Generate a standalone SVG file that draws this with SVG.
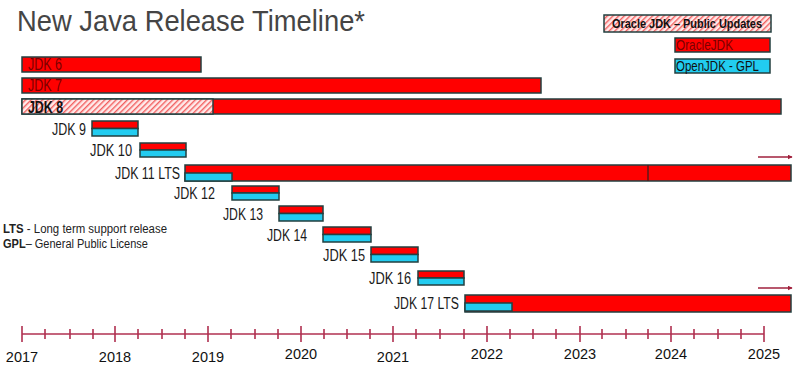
<svg xmlns="http://www.w3.org/2000/svg" width="800" height="368" viewBox="0 0 800 368">
<defs>
<pattern id="hatch" width="4" height="4" patternUnits="userSpaceOnUse" patternTransform="rotate(45)">
<rect width="4" height="4" fill="#ffeaea"/>
<rect x="0" y="0" width="1.4" height="4" fill="#f26060"/>
</pattern>
<marker id="arr" viewBox="0 0 8 8" refX="7" refY="4" markerWidth="5" markerHeight="5" orient="auto" markerUnits="userSpaceOnUse">
<path d="M0,0 L8,4 L0,8 z" fill="#a0203c"/>
</marker>
</defs>
<style>
.bar{stroke:#233f3f;stroke-width:1.5}
.red{fill:#ff0000}
.cyan{fill:#22ccf0}
.hat{fill:url(#hatch)}
.lbl{font-family:"Liberation Sans",Arial,sans-serif;font-size:16px;fill:#1a1a1a}
.inl{font-family:"Liberation Sans",Arial,sans-serif;font-size:16px;fill:#7a0000}
.yr{font-family:"Liberation Sans",Arial,sans-serif;font-size:14.5px;fill:#111;text-anchor:middle}
.ax{stroke:#b03050;stroke-width:1.6;fill:none}
.small{font-family:"Liberation Sans",Arial,sans-serif;font-size:12px;fill:#222}
.arrow{stroke:#a0203c;stroke-width:1.5;fill:none}
</style>
<rect width="800" height="368" fill="#ffffff"/>
<text x="17" y="31" font-family="'Liberation Sans',Arial,sans-serif" font-size="29" fill="#454545" textLength="348" lengthAdjust="spacingAndGlyphs">New Java Release Timeline*</text>

<g id="legend">
<rect class="bar hat" x="604" y="15" width="167" height="17"/>
<text x="612" y="28" font-family="'Liberation Sans',Arial,sans-serif" font-size="13" font-weight="bold" fill="#111" textLength="150" lengthAdjust="spacingAndGlyphs">Oracle JDK – Public Updates</text>
<rect class="bar red" x="675" y="38" width="95" height="14"/>
<text x="676" y="50" font-family="'Liberation Sans',Arial,sans-serif" font-size="14.5" fill="#7a0000" textLength="57" lengthAdjust="spacingAndGlyphs">OracleJDK</text>
<rect class="bar cyan" x="675" y="59" width="95" height="14"/>
<text x="676" y="71" font-family="'Liberation Sans',Arial,sans-serif" font-size="14.5" fill="#111" textLength="83" lengthAdjust="spacingAndGlyphs">OpenJDK - GPL</text>
</g>

<g id="notes">
<text class="small" x="3" y="232.5" textLength="164" lengthAdjust="spacingAndGlyphs"><tspan font-weight="bold">LTS</tspan> - Long term support release</text>
<text class="small" x="3" y="247.5" textLength="145" lengthAdjust="spacingAndGlyphs"><tspan font-weight="bold">GPL</tspan>– General Public License</text>
</g>

<g id="jdk6">
<rect class="bar red" x="22" y="57" width="179" height="15"/>
<text class="inl" x="28" y="70" textLength="34" lengthAdjust="spacingAndGlyphs">JDK 6</text>
</g>
<g id="jdk7">
<rect class="bar red" x="22" y="78" width="519" height="15"/>
<text class="inl" x="28" y="91" textLength="34" lengthAdjust="spacingAndGlyphs">JDK 7</text>
</g>
<g id="jdk8">
<rect class="bar red" x="22" y="99" width="759" height="15"/>
<rect class="bar hat" x="22" y="99" width="191" height="15"/>
<text x="28" y="112.5" font-family="'Liberation Sans',Arial,sans-serif" font-size="16" font-weight="bold" fill="#111" textLength="35" lengthAdjust="spacingAndGlyphs">JDK 8</text>
</g>
<g id="jdk9">
<rect class="bar red" x="92" y="121" width="46" height="7.5"/>
<rect class="bar cyan" x="92" y="128.5" width="46" height="7.5"/>
<text class="lbl" x="86" y="134.5" text-anchor="end" textLength="34" lengthAdjust="spacingAndGlyphs">JDK 9</text>
</g>
<g id="jdk10">
<rect class="bar red" x="140" y="143" width="46" height="7"/>
<rect class="bar cyan" x="140" y="150" width="46" height="7"/>
<text class="lbl" x="132" y="155.5" text-anchor="end" textLength="42" lengthAdjust="spacingAndGlyphs">JDK 10</text>
</g>
<g id="jdk11">
<rect class="bar red" x="185" y="165" width="606" height="16"/>
<rect class="bar cyan" x="185" y="173" width="47" height="8"/>
<line x1="648" y1="165" x2="648" y2="181" stroke="#5a1a1a" stroke-width="1.5"/>
<text class="lbl" x="180" y="178.5" text-anchor="end" textLength="65" lengthAdjust="spacingAndGlyphs">JDK 11 LTS</text>
</g>
<g id="jdk12">
<rect class="bar red" x="232" y="186" width="47" height="7"/>
<rect class="bar cyan" x="232" y="193" width="47" height="7"/>
<text class="lbl" x="215" y="198.5" text-anchor="end" textLength="41" lengthAdjust="spacingAndGlyphs">JDK 12</text>
</g>
<g id="jdk13">
<rect class="bar red" x="279" y="206" width="44" height="7.5"/>
<rect class="bar cyan" x="279" y="213.5" width="44" height="7.5"/>
<text class="lbl" x="263" y="219.5" text-anchor="end" textLength="40" lengthAdjust="spacingAndGlyphs">JDK 13</text>
</g>
<g id="jdk14">
<rect class="bar red" x="323" y="227" width="48" height="7.5"/>
<rect class="bar cyan" x="323" y="234.5" width="48" height="7.5"/>
<text class="lbl" x="307" y="240.5" text-anchor="end" textLength="40" lengthAdjust="spacingAndGlyphs">JDK 14</text>
</g>
<g id="jdk15">
<rect class="bar red" x="371" y="247" width="47" height="7.5"/>
<rect class="bar cyan" x="371" y="254.5" width="47" height="7.5"/>
<text class="lbl" x="365" y="260.5" text-anchor="end" textLength="42" lengthAdjust="spacingAndGlyphs">JDK 15</text>
</g>
<g id="jdk16">
<rect class="bar red" x="418" y="271" width="46" height="7"/>
<rect class="bar cyan" x="418" y="278" width="46" height="7"/>
<text class="lbl" x="411" y="283.5" text-anchor="end" textLength="42" lengthAdjust="spacingAndGlyphs">JDK 16</text>
</g>
<g id="jdk17">
<rect class="bar red" x="465" y="295" width="326" height="17"/>
<rect class="bar cyan" x="465" y="303" width="47" height="8"/>
<text class="lbl" x="459" y="308.5" text-anchor="end" textLength="65" lengthAdjust="spacingAndGlyphs">JDK 17 LTS</text>
</g>

<g id="connectors">
<line class="arrow" x1="758" y1="157" x2="792" y2="157" marker-end="url(#arr)"/>
<line class="arrow" x1="758" y1="288" x2="792" y2="288" marker-end="url(#arr)"/>
</g>

<g id="axis">
<line class="ax" x1="22" y1="334" x2="764" y2="334"/>
<path class="ax" d="M22,326V342 M115,326V342 M208,326V342 M301,326V342 M393,326V342 M487,326V342 M580,326V342 M671,326V342 M764,326V342"/>
<path class="ax" d="M45,329V339 M70,329V339 M93,329V339 M138,329V339 M162,329V339 M185,329V339 M231,329V339 M255,329V339 M278,329V339 M324,329V339 M347,329V339 M370,329V339 M416,329V339 M440,329V339 M464,329V339 M510,329V339 M533,329V339 M556,329V339 M602,329V339 M626,329V339 M648,329V339 M694,329V339 M718,329V339 M741,329V339"/>
<text class="yr" x="22" y="362">2017</text>
<text class="yr" x="115" y="362">2018</text>
<text class="yr" x="208" y="362">2019</text>
<text class="yr" x="301" y="359">2020</text>
<text class="yr" x="393" y="362">2021</text>
<text class="yr" x="487" y="359">2022</text>
<text class="yr" x="580" y="359">2023</text>
<text class="yr" x="671" y="359">2024</text>
<text class="yr" x="764" y="359">2025</text>
</g>
</svg>
